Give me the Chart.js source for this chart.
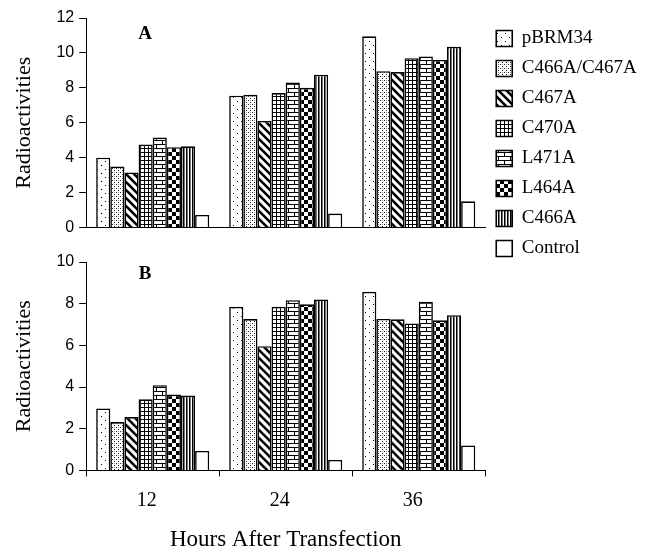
<!DOCTYPE html>
<html>
<head>
<meta charset="utf-8">
<script src="https://cdn.jsdelivr.net/npm/chart.js@4/dist/chart.umd.min.js"></script>
<style>
  html, body { margin: 0; padding: 0; background: #fff; }
  #wrap { position: relative; width: 645px; height: 556px; overflow: hidden; }
  #ca { position: absolute; left: 0; top: 0; }
  #cb { position: absolute; left: 0; top: 235px; }
</style>
</head>
<body>
<div id="wrap">
  <canvas id="ca" width="645" height="280"></canvas>
  <canvas id="cb" width="645" height="321"></canvas>
</div>
<script>
// ---- data ----
const categories = ['12', '24', '36'];
const seriesNames = ['pBRM34', 'C466A/C467A', 'C467A', 'C470A', 'L471A', 'L464A', 'C466A', 'Control'];

// Panel A
const aPBRM34     = [4.0, 7.55, 10.95];
const aC466AC467A = [3.5, 7.6, 8.95];
const aC467A      = [3.15, 6.1, 8.9];
const aC470A      = [4.75, 7.7, 9.7];
const aL471A      = [5.15, 8.3, 9.8];
const aL464A      = [4.6, 8.0, 9.6];
const aC466A      = [4.65, 8.75, 10.35];
const aControl    = [0.72, 0.8, 1.5];

// Panel B
const bPBRM34     = [2.97, 7.85, 8.57];
const bC466AC467A = [2.32, 7.26, 7.27];
const bC467A      = [2.56, 5.96, 7.25];
const bC470A      = [3.41, 7.85, 7.05];
const bL471A      = [4.09, 8.17, 8.09];
const bL464A      = [3.64, 7.97, 7.2];
const bC466A      = [3.59, 8.2, 7.45];
const bControl    = [0.93, 0.5, 1.2];

const panelA = [aPBRM34, aC466AC467A, aC467A, aC470A, aL471A, aL464A, aC466A, aControl];
const panelB = [bPBRM34, bC466AC467A, bC467A, bC470A, bL471A, bL464A, bC466A, bControl];

const yRangeA = { min: 0, max: 12, step: 2 };
const yRangeB = { min: 0, max: 10, step: 2 };

// ---- patterns ----
function mk(w, h, draw) {
  const c = document.createElement('canvas');
  c.width = w; c.height = h;
  const x = c.getContext('2d');
  x.fillStyle = '#fff'; x.fillRect(0, 0, w, h);
  x.fillStyle = '#000'; x.strokeStyle = '#000';
  draw(x, w, h);
  return x.createPattern(c, 'repeat');
}
const patterns = [
  mk(8, 8, x => { x.fillRect(1, 1, 1, 1); x.fillRect(5, 5, 1, 1); }),
  mk(4, 4, x => { x.fillStyle = '#222'; x.fillRect(0, 0, 1, 1); x.fillRect(2, 2, 1, 1); x.fillStyle = '#999'; x.fillRect(2, 0, 1, 1); }),
  mk(8, 8, x => {
    x.lineWidth = 2.6;
    for (let k = -1; k <= 1; k++) { x.beginPath(); x.moveTo(-2, 8 * k - 2); x.lineTo(10, 8 * k + 10); x.stroke(); }
  }),
  mk(4, 4, x => { x.fillRect(0, 0, 4, 1); x.fillRect(0, 0, 1, 4); }),
  mk(12, 8, x => { x.fillRect(0, 0, 12, 1); x.fillRect(0, 4, 12, 1); x.fillRect(0, 0, 1, 4); x.fillRect(6, 4, 1, 4); }),
  mk(8, 8, x => { x.fillRect(0, 0, 4, 4); x.fillRect(4, 4, 4, 4); }),
  mk(3, 1, x => { x.fillRect(0, 0, 1, 1); x.fillStyle = '#777'; x.fillRect(1, 0, 1, 1); }),
  '#ffffff'
];

function makeDatasets(panel) {
  return panel.map((vals, i) => ({
    label: seriesNames[i], data: vals,
    backgroundColor: patterns[i], borderColor: '#000', borderWidth: 1.6
  }));
}

const SERIF = '"Liberation Serif", "Times New Roman", serif';
const SANS = '"Liberation Sans", Arial, sans-serif';

function panelLabel(letter, yValue) {
  return {
    id: 'panelLabel' + letter,
    afterDatasetsDraw(chart) {
      const ctx = chart.ctx;
      ctx.save();
      ctx.fillStyle = '#000';
      ctx.font = 'bold 19px ' + SERIF;
      ctx.textAlign = 'center';
      ctx.textBaseline = 'middle';
      ctx.fillText(letter, chart.chartArea.left + 59, chart.scales.y.getPixelForValue(yValue));
      ctx.restore();
    }
  };
}

function yScale(r) {
  return {
    type: 'linear', position: 'left', min: r.min, max: r.max,
    ticks: { stepSize: r.step, autoSkip: false, color: '#000', padding: 5,
             font: { family: SANS, size: 16 } },
    grid: { drawOnChartArea: false, drawTicks: true, tickLength: 7, color: '#000' },
    border: { display: true, color: '#000', width: 1 },
    title: { display: true, text: 'Radioactivities', color: '#000',
             font: { family: SERIF, size: 22 }, padding: { top: 5, bottom: 14 } }
  };
}

const common = {
  responsive: false, animation: false, devicePixelRatio: 1,
  datasets: { bar: { categoryPercentage: 0.85, barPercentage: 1.0 } }
};

// Panel A (with legend)
const chartA = new Chart(document.getElementById('ca'), {
  type: 'bar',
  data: { labels: categories, datasets: makeDatasets(panelA) },
  options: Object.assign({}, common, {
    layout: { padding: { top: 18, left: 6, right: 0, bottom: 0 } },
    scales: {
      x: {
        ticks: { display: false },
        grid: { display: false },
        border: { display: true, color: '#000', width: 1 },
        afterFit: (s) => { s.height = 52.5; }
      },
      y: yScale(yRangeA)
    },
    plugins: {
      tooltip: { enabled: false },
      legend: {
        position: 'right', align: 'start',
        labels: {
          boxWidth: 16, boxHeight: 16, padding: 11, color: '#000',
          font: { family: SERIF, size: 19 }
        }
      }
    }
  }),
  plugins: [panelLabel('A', 11.1)]
});

// Panel B (no legend, same plot width)
const rightGap = 645 - chartA.chartArea.right;
new Chart(document.getElementById('cb'), {
  type: 'bar',
  data: { labels: categories, datasets: makeDatasets(panelB) },
  options: Object.assign({}, common, {
    layout: { padding: { top: 27, left: 6, right: rightGap, bottom: 2 } },
    scales: {
      x: {
        ticks: { color: '#000', padding: 12, labelOffset: -6, font: { family: SERIF, size: 20 } },
        grid: { offset: true, drawOnChartArea: false, tickLength: 6, color: '#000' },
        border: { display: true, color: '#000', width: 1 },
        title: { display: true, text: 'Hours After Transfection', color: '#000',
                 font: { family: SERIF, size: 23 }, padding: { top: 2, bottom: 0 } }
      },
      y: yScale(yRangeB)
    },
    plugins: {
      tooltip: { enabled: false },
      legend: { display: false }
    }
  }),
  plugins: [panelLabel('B', 9.4)]
});
</script>
</body>
</html>
